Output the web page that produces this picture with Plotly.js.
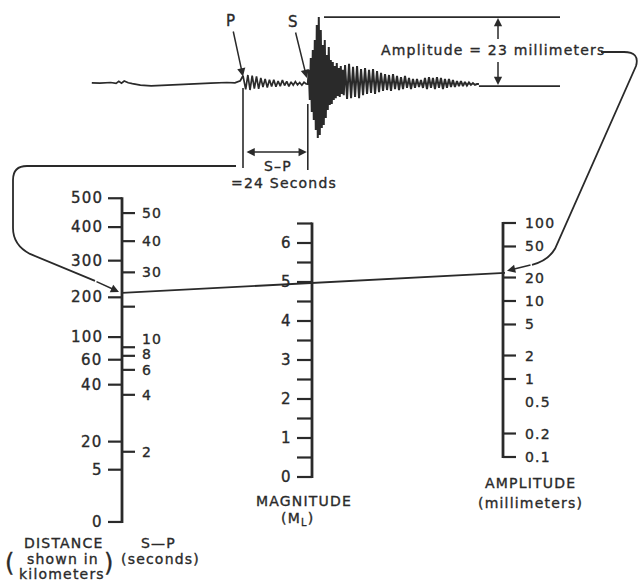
<!DOCTYPE html>
<html><head><meta charset="utf-8">
<script src="https://cdn.plot.ly/plotly-3.0.1.min.js"></script>
<style>
html,body{margin:0;padding:0;background:#fff;}
#chart{width:638px;height:582px;}
.annotation-text{letter-spacing:1.2px;stroke:#2a2a2a;stroke-width:0.35px;}
</style>
</head><body><div id="chart"></div>
<script>
// ---------- DATA ----------
// Distance scale: km labels and their nomogram value (-log A0)
const distanceKm = [0, 5, 20, 40, 60, 100, 200, 300, 400, 500];
const distanceScale = [0.68, 1.35, 1.71, 2.44, 2.76, 3.05, 3.56, 4.03, 4.46, 4.83];
// S-P scale (seconds) and nomogram value
const spSeconds = [2, 4, 6, 8, 10, 20, 30, 40, 50];
const spScale = [1.58, 2.31, 2.63, 2.81, 2.92, 3.44, 3.88, 4.28, 4.64];
const spLabels = ['2', '4', '6', '8', '10', '', '30', '40', '50'];
// Magnitude scale
const magMajor = [0, 1, 2, 3, 4, 5, 6];
const magMinor = [0.5, 1.5, 2.5, 3.5, 4.5, 5.5, 6.5];
// Amplitude scale (mm)
const ampTicks = [100, 50, 20, 10, 5, 2, 1, 0.2, 0.1];
const ampLabels = [100, 50, 20, 10, 5, 2, 1, 0.5, 0.2, 0.1];
// Example reading
const spReading = 24;      // seconds
const ampReading = 23;     // millimeters
const ampBaseline = -0.7;  // mm, lower reference line of the record
// Seismogram: pre-P noise and P coda (time s, amplitude mm)
const preTime = [-56,-53,-49,-47,-46,-45,-44,-42.5,-41,-38,-34,-30,-24,-18,-12,-6,-3,-1,0,
  1,1.8,2.6,3.4,4.2,5.0,5.8,6.6,7.4,8.2,9.0,9.8,10.6,11.4,12.2,13,13.8,14.6,15.4,16.2,17,17.8,18.6,19.4,20.2,21,21.8,22.6,23.4];
const preAmp = [0.4,0.3,0.5,0.2,0.9,0.3,1.0,0.4,0.1,-0.4,-0.6,-0.4,-0.1,0.1,0.3,0.5,0.4,1.1,2.8,
  -1.8,3.0,-2.0,2.8,-1.5,2.5,-1.6,2.0,-1.0,1.7,-1.2,1.4,-0.8,1.4,-0.9,1.0,-0.7,1.3,-0.5,0.9,-0.8,0.7,-0.4,0.8,-0.3,0.5,-0.4,0.6,0];
// S burst, sampled every 0.37 s from S arrival
const burstStart = 24, burstDt = 0.37;
const burstAmp = [0,4.7,-5.3,8.7,-9.3,11.3,-12,14.7,-15.3,19.7,-18,22.3,-17,18,-14.7,13,-13.7,14.7,-11.3,9.7,
  -8.7,12.3,-7,8,-6.7,7.3,-5.3,6,-4.7,7,-4,5.3,-4.3,6,-3.3,4.7,-3.7];
// Coda, sampled every 0.74 s
const codaStart = 37.8, codaDt = 0.74;
const codaAmp = [6.3,-5,6.7,-4.7,5.7,-4.3,6,-4.7,5,-3.7,5.3,-3.3,4.7,-3,5,-3.3,4.3,-2.7,3.7,-2.3,3.3,-2,3,-2.3,3.3,
  -1.7,2.7,-2,2.3,-1.7,2.7,-1.3,2,-1.7,1.7,-1.3,1.7,-1,1.3,-1.3,2,-1.7,2.3,-1.3,2,-1.7,2.3,-1.3,2,-1.7,1.7,-1.3,
  1.7,-1,1.3,-1,1,-0.7,1,-0.7,0.7,-0.5,0.5,-0.3,0.3,-0.3,0,0];

// ---------- LAYOUT GEOMETRY ----------
const INK = '#2a2a2a';
const FONT = 'DejaVu Sans';
const DIST_X = 122, MAG_X = 312, AMP_X = 503;
const magY = m => 477 - 39 * m;
const ampY = a => 379 - 78 * Math.log10(a);
const distY = d => 2 * magY(d) - ampY(1);          // nomogram: middle = mean of outer scales
const seisX = t => 243 + 2.7 * t;
const seisY = a => 84 - 3 * a;
function interp(x, xs, ys) {
  for (let i = 0; i < xs.length - 1; i++) {
    if (x >= xs[i] && x <= xs[i + 1]) return ys[i] + (ys[i + 1] - ys[i]) * (x - xs[i]) / (xs[i + 1] - xs[i]);
  }
  return ys[ys.length - 1];
}

const traces = [];
const annotations = [];
const shapes = [];
function line(xs, ys, w) {
  traces.push({x: xs, y: ys, mode: 'lines', line: {color: INK, width: w || 1.5}, hoverinfo: 'skip', showlegend: false});
}
function label(x, y, text, anchor, size, extra) {
  annotations.push(Object.assign({x: x, y: y, xref: 'x', yref: 'y', text: text, showarrow: false,
    xanchor: anchor || 'center', yanchor: 'middle', font: {family: FONT, size: size || 15, color: INK}}, extra || {}));
}
function arrow(x0, y0, x1, y1, both) {
  annotations.push({x: x1, y: y1, ax: x0, ay: y0, xref: 'x', yref: 'y', axref: 'x', ayref: 'y', text: ' ',
    showarrow: true, arrowhead: 2, startarrowhead: 2, arrowsize: 1.1, startarrowsize: 1.1, arrowwidth: 1.5,
    arrowcolor: INK, arrowside: both ? 'end+start' : 'end', standoff: 0, startstandoff: 0,
    font: {family: FONT, size: 4, color: INK}});
}

// ---------- SEISMOGRAM ----------
{
  const xs = [], ys = [];
  preTime.forEach((t, i) => { xs.push(seisX(t)); ys.push(seisY(preAmp[i])); });
  line(xs, ys, 1.7);
  const bx = [], by = [];
  bx.push(seisX(preTime[preTime.length - 1])); by.push(seisY(preAmp[preAmp.length - 1]));
  burstAmp.forEach((a, i) => { bx.push(seisX(burstStart + i * burstDt)); by.push(seisY(a)); });
  codaAmp.forEach((a, i) => { bx.push(seisX(codaStart + i * codaDt)); by.push(seisY(a)); });
  line(bx, by, 2);
  const tEnd = codaStart + (codaAmp.length - 1) * codaDt;
  // amplitude reference lines
  line([seisX(tEnd), 560], [seisY(ampBaseline), seisY(ampBaseline)], 1.6);
  line([seisX(30), 560], [seisY(ampBaseline + ampReading), seisY(ampBaseline + ampReading)], 1.6);
  // amplitude double arrow, broken by the text
  arrow(498, 43, 498, seisY(ampBaseline + ampReading) + 1);
  arrow(498, 58, 498, seisY(ampBaseline) - 1);
  label(493, 50, 'Amplitude = 23 millimeters', 'center', 14);
  // P and S arrows
  annotations.push({x: seisX(0), y: seisY(2.5), ax: 231, ay: 21, xref: 'x', yref: 'y', axref: 'x', ayref: 'y',
    text: 'P', showarrow: true, arrowhead: 2, arrowsize: 1.1, arrowwidth: 1.5, arrowcolor: INK, standoff: 0,
    font: {family: FONT, size: 15, color: INK}});
  annotations.push({x: seisX(spReading) - 1, y: seisY(2), ax: 293, ay: 22, xref: 'x', yref: 'y', axref: 'x', ayref: 'y',
    text: 'S', showarrow: true, arrowhead: 2, arrowsize: 1.1, arrowwidth: 1.5, arrowcolor: INK, standoff: 0,
    font: {family: FONT, size: 15, color: INK}});
  // S-P bracket
  line([seisX(0), seisX(0)], [88, 168], 1.6);
  line([seisX(spReading), seisX(spReading)], [104, 170], 1.6);
  arrow(seisX(0) + 1, 152, seisX(spReading) - 1, 152, true);
  label(278, 166, 'S–P', 'center', 14);
  label(284, 183, '=24 Seconds', 'center', 14);
}

// ---------- DISTANCE / S-P SCALE ----------
{
  const top = distY(distanceScale[distanceScale.length - 1]), bot = distY(distanceScale[0]);
  line([DIST_X, DIST_X], [top - 1, bot + 1], 2.8);
  const tx = [], ty = [];
  distanceScale.forEach((d, i) => {
    tx.push(DIST_X - 14, DIST_X, null); ty.push(distY(d), distY(d), null);
    label(DIST_X - 17, distY(d), String(distanceKm[i]), 'right', 15);
  });
  // S-P labels: keep crowded labels (10, 8, 6) stacked without overlap
  let prevY = Infinity;
  spScale.forEach((d, i) => {
    tx.push(DIST_X, DIST_X + 13, null); ty.push(distY(d), distY(d), null);
    if (spLabels[i]) {
      const y = Math.min(distY(d), prevY - 15.5);
      label(DIST_X + 19, y, spLabels[i], 'left', 14, {borderpad: 0});
      prevY = y;
    }
  });
  line(tx, ty, 2.2);
  label(64, 543, 'DISTANCE', 'center', 14);
  label(63, 559, 'shown in', 'center', 14);
  label(62, 574, 'kilometers', 'center', 14);
  label(10, 563, '(', 'center', 24);
  label(109, 563, ')', 'center', 24);
  label(158, 543, 'S—P', 'center', 14);
  label(160, 559, '(seconds)', 'center', 14);
}

// ---------- MAGNITUDE SCALE ----------
{
  line([MAG_X, MAG_X], [magY(magMinor[magMinor.length - 1]) - 1, magY(magMajor[0]) + 1], 2.8);
  const tx = [], ty = [];
  magMajor.forEach(m => {
    tx.push(MAG_X - 15, MAG_X, null); ty.push(magY(m), magY(m), null);
    label(MAG_X - 18, magY(m), String(m), 'right', 15);
  });
  magMinor.forEach(m => { tx.push(MAG_X - 15, MAG_X, null); ty.push(magY(m), magY(m), null); });
  line(tx, ty, 2.2);
  label(304, 501, 'MAGNITUDE', 'center', 14);
  label(297, 519, '(M<sub>L</sub>)', 'center', 14);
}

// ---------- AMPLITUDE SCALE ----------
{
  line([AMP_X, AMP_X], [ampY(ampTicks[0]) - 1, ampY(ampTicks[ampTicks.length - 1]) + 1], 2.8);
  const tx = [], ty = [];
  ampTicks.forEach(a => { tx.push(AMP_X, AMP_X + 13, null); ty.push(ampY(a), ampY(a), null); });
  line(tx, ty, 2.2);
  ampLabels.forEach(a => label(AMP_X + 20, ampY(a), String(a), 'left', 14));
  label(530, 483, 'AMPLITUDE', 'center', 14);
  label(530, 503, '(millimeters)', 'center', 14);
}

// ---------- READING LINE AND GUIDE ARROWS ----------
const dReading = interp(spReading, spSeconds, spScale);
const yL = distY(dReading), yR = ampY(ampReading);
line([DIST_X, AMP_X + 2], [yL, yR], 1.8);
// left guide: from S-P bracket to the distance scale
shapes.push({type: 'path', xref: 'x', yref: 'y', line: {color: INK, width: 1.8},
  path: `M 236 166 L 27 166 Q 13 166 13 180 L 13 228 Q 13 245 30 ${yL - 39} L 95 ${yL - 12}`});
arrow(94, yL - 12.5, DIST_X - 3, yL - 1);
// right guide: from amplitude text to the amplitude scale
shapes.push({type: 'path', xref: 'x', yref: 'y', line: {color: INK, width: 1.8},
  path: `M 601 52 L 624 52 Q 640 52 636 66 L 555 ${yR - 24} Q 548 ${yR - 12} 532 ${yR - 8}`});
arrow(533, yR - 8.3, AMP_X + 4, yR - 2);

Plotly.newPlot('chart', traces, {
  width: 638, height: 582,
  margin: {l: 0, r: 0, t: 0, b: 0},
  paper_bgcolor: '#ffffff', plot_bgcolor: '#ffffff',
  xaxis: {range: [0, 638], visible: false, fixedrange: true},
  yaxis: {range: [582, 0], visible: false, fixedrange: true},
  annotations: annotations, shapes: shapes, showlegend: false
}, {staticPlot: true});
</script>
</body></html>
